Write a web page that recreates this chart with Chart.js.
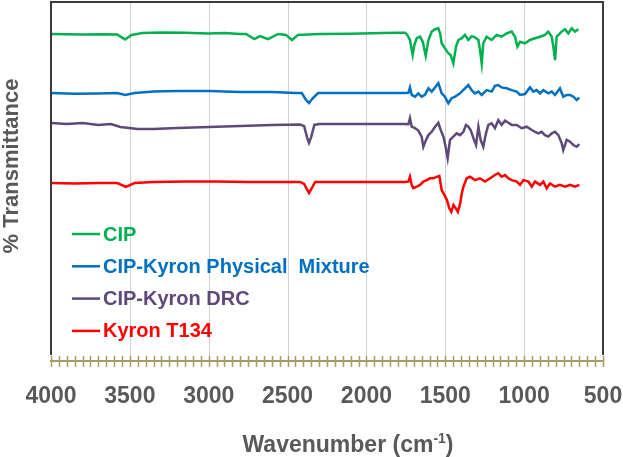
<!DOCTYPE html>
<html>
<head>
<meta charset="utf-8">
<script src="https://cdn.jsdelivr.net/npm/chart.js@4.4.1/dist/chart.umd.min.js"></script>
<style>
  html, body { margin: 0; padding: 0; background: #fff; }
  canvas { display: block; }
</style>
</head>
<body>
<canvas id="ftir" width="623" height="457"></canvas>
<script>
// x tick labels (cm-1)
const xTicks = [4000, 3500, 3000, 2500, 2000, 1500, 1000, 500];

const seriesNames = ["CIP", "CIP-Kyron Physical  Mixture", "CIP-Kyron DRC", "Kyron T134"];
const seriesColors = ["#00b050", "#0070c0", "#5f497a", "#ff0000"];

// CIP
const cipWn = [4000, 3800, 3650, 3580, 3530, 3490, 3420, 3300, 3150, 3000, 2900, 2800, 2763, 2711, 2675, 2624, 2560, 2510, 2472, 2434, 2300, 2100, 1900, 1780, 1755, 1741, 1724, 1707, 1696, 1681, 1660, 1643, 1624, 1607, 1586, 1565, 1544, 1533, 1523, 1502, 1481, 1466, 1449, 1432, 1417, 1396, 1375, 1354, 1333, 1312, 1290, 1280, 1269, 1259, 1238, 1206, 1174, 1143, 1111, 1079, 1058, 1043, 1026, 995, 963, 931, 899, 868, 847, 825, 815, 804, 794, 762, 741, 720, 699, 678, 656];
const cipT = [109.0, 108.8, 108.9, 108.8, 107.2, 108.7, 109.3, 109.5, 109.4, 109.2, 109.3, 109.0, 109.0, 107.3, 108.3, 107.3, 109.0, 108.7, 107.0, 108.7, 109.0, 109.1, 109.3, 109.4, 109.4, 108.7, 107.0, 102.0, 105.3, 107.6, 108.1, 106.4, 101.7, 107.0, 109.8, 110.6, 110.9, 109.2, 105.9, 104.2, 102.6, 102.0, 99.2, 104.8, 107.0, 107.6, 108.7, 107.0, 108.3, 107.9, 107.0, 103.7, 99.2, 105.9, 108.1, 107.0, 108.7, 108.1, 109.2, 109.8, 108.1, 104.8, 106.4, 105.9, 107.0, 107.6, 108.1, 108.7, 109.8, 108.1, 104.8, 100.3, 108.1, 109.8, 110.6, 109.2, 110.9, 109.8, 110.6];

// CIP-Kyron physical mixture
const pmWn = [4000, 3850, 3700, 3580, 3530, 3470, 3350, 3200, 3000, 2800, 2600, 2450, 2410, 2383, 2364, 2345, 2307, 2100, 1900, 1760, 1734, 1724, 1713, 1692, 1671, 1650, 1629, 1607, 1586, 1565, 1544, 1523, 1502, 1481, 1460, 1438, 1407, 1375, 1354, 1333, 1312, 1290, 1269, 1238, 1206, 1185, 1164, 1143, 1111, 1079, 1047, 1026, 995, 963, 942, 921, 899, 878, 847, 825, 804, 773, 752, 730, 709, 688, 667, 650];
const pmT = [89.3, 89.1, 89.2, 89.3, 88.7, 89.3, 89.8, 90.0, 90.0, 89.7, 89.7, 89.3, 89.3, 87.0, 86.0, 87.3, 89.3, 89.3, 89.3, 89.3, 89.4, 91.2, 88.7, 88.1, 89.2, 88.1, 88.7, 90.9, 89.8, 91.2, 92.6, 89.2, 88.1, 85.9, 87.6, 88.1, 89.2, 90.9, 92.0, 90.3, 89.2, 89.8, 88.7, 90.3, 89.8, 91.7, 92.0, 91.2, 90.9, 90.3, 89.8, 88.7, 89.0, 91.2, 89.8, 90.3, 89.2, 90.3, 89.2, 89.8, 88.7, 90.9, 88.1, 88.7, 88.7, 88.1, 87.0, 87.8];

// CIP-Kyron DRC
const drcWn = [4000, 3900, 3800, 3700, 3620, 3560, 3450, 3350, 3200, 3000, 2800, 2600, 2420, 2395, 2375, 2364, 2350, 2330, 2300, 2000, 1760, 1734, 1724, 1713, 1692, 1671, 1650, 1639, 1622, 1607, 1586, 1565, 1544, 1529, 1512, 1498, 1485, 1470, 1449, 1428, 1407, 1385, 1369, 1354, 1339, 1318, 1305, 1290, 1276, 1259, 1242, 1227, 1206, 1185, 1164, 1143, 1121, 1100, 1079, 1047, 1016, 984, 952, 931, 910, 889, 868, 847, 825, 804, 783, 762, 752, 730, 709, 688, 667, 650];
const drcT = [79.3, 79.0, 79.3, 78.7, 79.0, 78.0, 77.3, 77.3, 77.7, 78.0, 78.3, 78.7, 78.8, 78.3, 74.3, 72.7, 74.7, 78.7, 79.0, 79.0, 79.0, 78.9, 80.9, 78.1, 77.6, 76.8, 74.8, 71.4, 73.7, 75.3, 76.4, 78.1, 79.4, 77.0, 74.8, 71.4, 67.6, 73.7, 74.8, 75.9, 75.3, 76.4, 78.7, 78.1, 77.0, 73.7, 72.0, 78.1, 73.7, 71.4, 75.9, 78.7, 79.2, 77.6, 80.3, 78.7, 80.1, 79.4, 78.7, 78.7, 77.6, 78.1, 77.0, 76.4, 75.9, 76.4, 75.3, 74.8, 75.9, 76.4, 75.3, 72.6, 70.3, 73.7, 73.1, 72.0, 71.4, 72.3];

// Kyron T134
const kyWn = [4000, 3850, 3700, 3580, 3525, 3470, 3350, 3150, 2950, 2750, 2550, 2420, 2395, 2375, 2364, 2350, 2325, 2100, 1900, 1760, 1734, 1724, 1713, 1703, 1681, 1660, 1639, 1618, 1597, 1576, 1555, 1538, 1523, 1505, 1490, 1475, 1462, 1448, 1435, 1420, 1405, 1395, 1385, 1364, 1343, 1312, 1280, 1248, 1216, 1185, 1164, 1143, 1121, 1100, 1079, 1047, 1026, 1005, 973, 952, 931, 899, 878, 857, 836, 804, 773, 741, 709, 678, 650];
const kyT = [59.3, 59.2, 59.3, 59.3, 58.0, 59.3, 59.7, 59.8, 59.8, 59.7, 59.7, 59.7, 59.0, 57.0, 56.0, 57.3, 59.7, 59.7, 59.7, 59.7, 59.8, 61.4, 58.7, 57.6, 58.1, 58.7, 59.8, 60.3, 60.9, 60.9, 61.4, 61.7, 57.0, 55.3, 53.7, 51.0, 49.7, 52.0, 51.0, 49.7, 52.7, 56.0, 58.1, 60.9, 61.4, 60.3, 60.9, 59.8, 60.9, 62.0, 62.6, 61.4, 62.0, 60.9, 60.3, 59.8, 58.7, 60.3, 59.8, 58.1, 59.8, 58.7, 59.8, 57.6, 59.2, 58.1, 58.7, 58.1, 58.7, 58.1, 58.7];

const FONT = "'Liberation Sans', Arial, sans-serif";
const GREY = "#595959";
const AXIS = "#a39b68";

const toPoints = (wn, t) => wn.map((x, i) => ({ x, y: t[i] }));

const spectra = [
  toPoints(cipWn, cipT),
  toPoints(pmWn, pmT),
  toPoints(drcWn, drcT),
  toPoints(kyWn, kyT),
];

// gridlines, frame, minor ticks on the x axis, titles and the in-plot legend
const decorations = {
  id: "decorations",
  beforeDatasetsDraw(chart) {
    const { ctx, chartArea: a, scales: { x } } = chart;
    ctx.save();
    ctx.strokeStyle = "#d0d0d0";
    ctx.lineWidth = 1;
    ctx.beginPath();
    xTicks.slice(1, -1).forEach((v) => {
      const px = Math.round(x.getPixelForValue(v)) + 0.5;
      ctx.moveTo(px, a.top);
      ctx.lineTo(px, a.bottom);
    });
    ctx.stroke();

    ctx.strokeStyle = AXIS;
    ctx.lineWidth = 1.5;
    ctx.beginPath();
    for (let v = x.min; v <= x.max; v += 50) {
      const px = Math.round(x.getPixelForValue(v)) + 0.5;
      ctx.moveTo(px, a.bottom - 5);
      ctx.lineTo(px, a.bottom + 6);
    }
    ctx.stroke();
    ctx.restore();
  },
  afterDraw(chart) {
    const { ctx, chartArea: a } = chart;
    ctx.save();

    ctx.strokeStyle = "#3a3a3a";
    ctx.lineWidth = 2;
    ctx.beginPath();
    ctx.moveTo(a.left, a.bottom - 6);
    ctx.lineTo(a.left, a.top + 1);
    ctx.lineTo(a.right, a.top + 1);
    ctx.lineTo(a.right, a.bottom - 6);
    ctx.stroke();

    ctx.fillStyle = GREY;

    // y title
    ctx.font = `bold 22px ${FONT}`;
    ctx.translate(12, 166);
    ctx.rotate(-Math.PI / 2);
    ctx.textAlign = "center";
    ctx.textBaseline = "middle";
    ctx.fillText("% Transmittance", 0, 0);
    ctx.setTransform(1, 0, 0, 1, 0, 0);

    // x title with superscript
    const main = "Wavenumber (cm";
    const sup = "-1";
    const close = ")";
    ctx.textAlign = "left";
    ctx.textBaseline = "alphabetic";
    ctx.font = `bold 23px ${FONT}`;
    const w1 = ctx.measureText(main).width;
    const w3 = ctx.measureText(close).width;
    ctx.font = `bold 14px ${FONT}`;
    const w2 = ctx.measureText(sup).width;
    const x0 = 348 - (w1 + w2 + w3) / 2;
    const base = 452;
    ctx.font = `bold 23px ${FONT}`;
    ctx.fillText(main, x0, base);
    ctx.font = `bold 14px ${FONT}`;
    ctx.fillText(sup, x0 + w1, base - 9);
    ctx.font = `bold 23px ${FONT}`;
    ctx.fillText(close, x0 + w1 + w2, base);

    // legend inside the plot
    ctx.font = `bold 20px ${FONT}`;
    ctx.textBaseline = "middle";
    chart.data.datasets.forEach((ds, i) => {
      const y = 234 + i * 32.3;
      ctx.strokeStyle = ds.borderColor;
      ctx.lineWidth = 2.5;
      ctx.beginPath();
      ctx.moveTo(a.left + 21, y);
      ctx.lineTo(a.left + 49, y);
      ctx.stroke();
      ctx.fillStyle = ds.borderColor;
      ctx.fillText(ds.label, a.left + 52, y + 1);
    });
    ctx.restore();
  },
};

new Chart(document.getElementById("ftir"), {
  type: "line",
  data: {
    datasets: spectra.map((data, i) => ({
      label: seriesNames[i],
      data,
      borderColor: seriesColors[i],
      backgroundColor: seriesColors[i],
      borderWidth: 2.5,
      pointRadius: 0,
      tension: 0,
    })),
  },
  options: {
    responsive: false,
    animation: false,
    devicePixelRatio: 1,
    layout: { padding: { top: 1, right: 0, bottom: 0, left: 0 } },
    plugins: { legend: { display: false }, tooltip: { enabled: false } },
    scales: {
      x: {
        type: "linear",
        reverse: true,
        min: xTicks[xTicks.length - 1],
        max: xTicks[0],
        afterBuildTicks: (scale) => {
          scale.ticks = xTicks.map((value) => ({ value }));
        },
        afterFit: (scale) => {
          scale.height = 96;
          scale.paddingLeft = 0;
          scale.paddingRight = 20;
        },
        ticks: {
          color: GREY,
          padding: 22,
          maxRotation: 0,
          autoSkip: false,
          callback: (value) => String(value),
          font: { family: FONT, size: 23, weight: "bold" },
        },
        grid: { display: false, drawTicks: false },
        border: { color: AXIS, width: 2 },
      },
      y: {
        min: 0,
        max: 120,
        afterFit: (scale) => {
          scale.width = 51;
        },
        ticks: { display: false },
        grid: { display: false },
        border: { display: false },
      },
    },
  },
  plugins: [decorations],
});
</script>
</body>
</html>
